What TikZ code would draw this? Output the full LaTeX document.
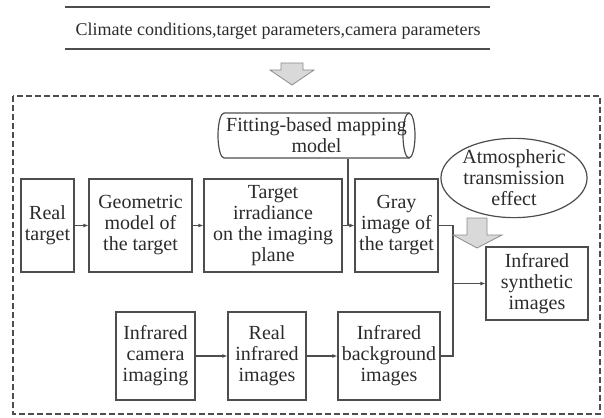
\documentclass[tikz,border=0pt]{standalone}
\usepackage{fontspec}
\setmainfont{Liberation Serif}
\usetikzlibrary{arrows.meta, shapes.geometric}

\definecolor{linegray}{HTML}{4D4D4D}
\definecolor{textgray}{HTML}{2B2B2B}
\definecolor{arrowfill}{HTML}{D9D9D9}
\definecolor{arrowedge}{HTML}{8C8C8C}

\begin{document}
\begin{tikzpicture}[x=1pt, y=-1pt,
    box/.style={draw=linegray, line width=1.2pt, align=center, inner sep=1pt, text=textgray, font=\fontsize{20}{21}\selectfont},
    line/.style={draw=linegray, line width=1.2pt},
    link/.style={line, -{Latex[length=5pt, width=4pt]}},
    blockarrow/.style={fill=arrowfill, draw=arrowedge, line width=0.8pt, line join=miter}]
    \useasboundingbox (0,0) rectangle (604,417);

    % inputs between two rules
    \draw[linegray, line width=1.8pt] (65,7) -- (490,7);
    \node[text=textgray, font=\fontsize{18}{20}\selectfont] (cond) at (278,31) {Climate conditions,target parameters,camera parameters};
    \draw[linegray, line width=1.8pt] (65,49) -- (490,49);

    \draw[linegray, line width=1.2pt, dash pattern=on 6pt off 3pt] (13,96) rectangle (600,414);

    \node[box, minimum width=53pt, minimum height=93pt] (real) at (47.5,225.5) {Real\\target};
    \node[box, minimum width=103pt, minimum height=93pt] (geom) at (140.5,225.5) {Geometric\\model of\\the target};
    \node[box, minimum width=138pt, minimum height=93pt] (irr) at (273,225.5) {Target\\irradiance\\on the imaging\\plane};
    \node[box, minimum width=83pt, minimum height=93pt] (gray) at (396.5,225.5) {Gray\\image of\\the target};
    \node[box, minimum width=102pt, minimum height=73pt] (synth) at (537,283.5) {Infrared\\synthetic\\images};

    \node[box, minimum width=79pt, minimum height=88pt] (cam) at (155.5,356) {Infrared\\camera\\imaging};
    \node[box, minimum width=78pt, minimum height=88pt] (realir) at (267,356) {Real\\infrared\\images};
    \node[box, minimum width=102pt, minimum height=88pt] (bg) at (389,356) {Infrared\\background\\images};

    % drum lying on its side
    \draw[line] (409,113) -- (224,113) arc[start angle=270, end angle=90, x radius=6, y radius=22.5] -- (409,158);
    \draw[line] (409,135.5) ellipse [x radius=6, y radius=22.5];
    \node[box, draw=none, minimum width=197pt, minimum height=45pt] (fit) at (316.5,135.5) {Fitting-based mapping\\model};
    \node[box, ellipse, minimum width=142pt, minimum height=75pt, inner sep=0pt] (atmo) at (514,178) {Atmospheric\\transmission\\effect};

    \draw[link] (real) -- (geom);
    \draw[link] (geom) -- (irr);
    \draw[link] (irr) -- (gray);
    \coordinate (fitdrop) at (348,225.5);
    \draw[line] (fit.south -| fitdrop) -- (fitdrop);

    \draw[link] (cam) -- (realir);
    \draw[link] (realir) -- (bg);

    \coordinate (merge) at (453,283.5);
    \draw[line] (gray.east) -- (gray.east -| merge) -- (bg.east -| merge) -- (bg.east);
    \draw[link] (merge) -- (synth);

    % hollow arrows
    \draw[blockarrow] (281,63) -- (303,63) -- (303,70) -- (314,70) -- (292,85) -- (270,70) -- (281,70) -- cycle;
    \draw[blockarrow] (467,218) -- (487,218) -- (487,235) -- (502,235) -- (477,248) -- (453,235) -- (467,235) -- cycle;
\end{tikzpicture}
\end{document}
